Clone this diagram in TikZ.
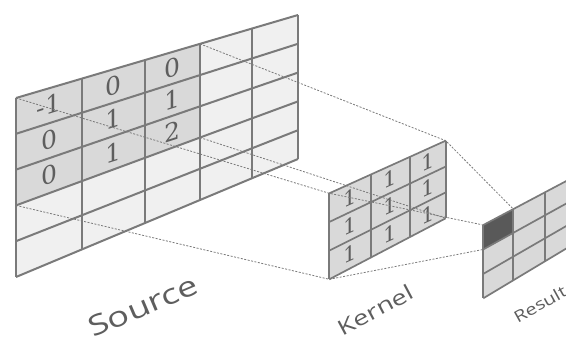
\documentclass[tikz,border=0pt]{standalone}
\usepackage{fontspec}
\usetikzlibrary{calc}
\newfontfamily\lblfont{Open Sans}
\newfontfamily\numfont{DejaVu Serif}
\definecolor{grid}{HTML}{7A7A7A}
\definecolor{pale}{HTML}{F0F0F0}
\definecolor{mid}{HTML}{D9D9D9}
\definecolor{hot}{HTML}{595959}
\definecolor{ink}{HTML}{5E5E5E}
\tikzset{
  gline/.style={draw=grid,line width=2pt,line join=round},
  proj/.style={draw=grid,line width=0.8pt,dash pattern=on 2pt off 1.5pt},
  digit/.style={text=ink,inner sep=0pt},
  lbl/.style={text=ink,inner sep=0pt},
}

\begin{document}
\begin{tikzpicture}[x=1pt,y=-1pt]
\useasboundingbox (0,0) rectangle (566,345);
\clip (0,0) rectangle (566,345);
% source 5x5, columns narrow to the right
\foreach \i/\x in {0/16,1/82,2/145,3/200,4/252,5/298}
  \foreach \j in {0,...,5}
    \coordinate (s-\i-\j) at (\x,{98-(\x-16)/282*83+\j/5*(179-(\x-16)/282*35)});
\fill[pale] (s-0-0) -- (s-5-0) -- (s-5-5) -- (s-0-5) -- cycle;
\fill[mid] (s-0-0) -- (s-3-0) -- (s-3-3) -- (s-0-3) -- cycle;
\foreach \i in {0,...,5} \draw[gline] (s-\i-0) -- (s-\i-5);
\foreach \j in {0,...,5} \draw[gline] (s-0-\j) -- (s-5-\j);
\foreach \v [count=\n from 0] in {-1,0,0,0,1,1,0,1,2}{
  \pgfmathtruncatemacro\i{mod(\n,3)}
  \pgfmathtruncatemacro\j{int(\n/3)}
  \pgfmathtruncatemacro\ii{\i+1}
  \pgfmathtruncatemacro\jj{\j+1}
  \node[digit,yslant=.32,font=\numfont\fontsize{25}{25}\selectfont] (sv-\i-\j)
    at ($(s-\i-\j)!.5!(s-\ii-\jj)$) {\v};
}
% kernel 3x3
\foreach \i/\x in {0/329.3,1/371,2/410,3/445.7}
  \foreach \j in {0,...,3}
    \coordinate (k-\i-\j) at (\x,{193.3-(\x-329.3)*0.452+\j/3*(86-(\x-329.3)*0.072)});
\fill[mid] (k-0-0) -- (k-3-0) -- (k-3-3) -- (k-0-3) -- cycle;
\foreach \i in {0,...,3} \draw[gline,line width=1.7pt] (k-\i-0) -- (k-\i-3);
\foreach \j in {0,...,3} \draw[gline,line width=1.7pt] (k-0-\j) -- (k-3-\j);
\foreach \i in {0,1,2}
  \foreach \j in {0,1,2}{
    \pgfmathtruncatemacro\ii{\i+1}
    \pgfmathtruncatemacro\jj{\j+1}
    \node[digit,yslant=.45,font=\numfont\fontsize{21}{21}\selectfont] (kv-\i-\j)
      at ($(k-\i-\j)!.5!(k-\ii-\jj)$) {1};
  }
% result, one cell marked
\foreach \i/\x in {0/483.3,1/513.3,2/545,3/576}
  \foreach \j in {0,...,3}
    \coordinate (r-\i-\j) at (\x,{225-(\x-483.3)*0.53+\j/3*(73.3-(\x-483.3)*0.07)});
\fill[mid] (r-0-0) -- (r-3-0) -- (r-3-3) -- (r-0-3) -- cycle;
\fill[hot] (r-0-0) -- (r-1-0) -- (r-1-1) -- (r-0-1) -- cycle;
\foreach \i in {0,...,3} \draw[gline,line width=1.7pt] (r-\i-0) -- (r-\i-3);
\foreach \j in {0,...,3} \draw[gline,line width=1.7pt] (r-0-\j) -- (r-3-\j);
% projection lines
\draw[proj] (s-0-0) -- (k-0-0) -- (r-0-0);
\draw[proj] (s-3-0) -- (k-3-0) -- (r-1-0);
\draw[proj] (s-3-3) -- (k-3-3);
\draw[proj] (s-0-3) -- (k-0-3) -- (r-0-1);
% labels
\node[lbl,font=\lblfont\fontsize{28}{28}\selectfont,rotate=23,xscale=1.3] (src) at (143,306) {Source};
\node[lbl,font=\lblfont\fontsize{21}{21}\selectfont,rotate=28,xscale=1.3] (ker) at (375,310) {Kernel};
\node[lbl,font=\lblfont\fontsize{16}{16}\selectfont,rotate=29,xscale=1.25] (res) at (540,304) {Result};
\end{tikzpicture}
\end{document}
